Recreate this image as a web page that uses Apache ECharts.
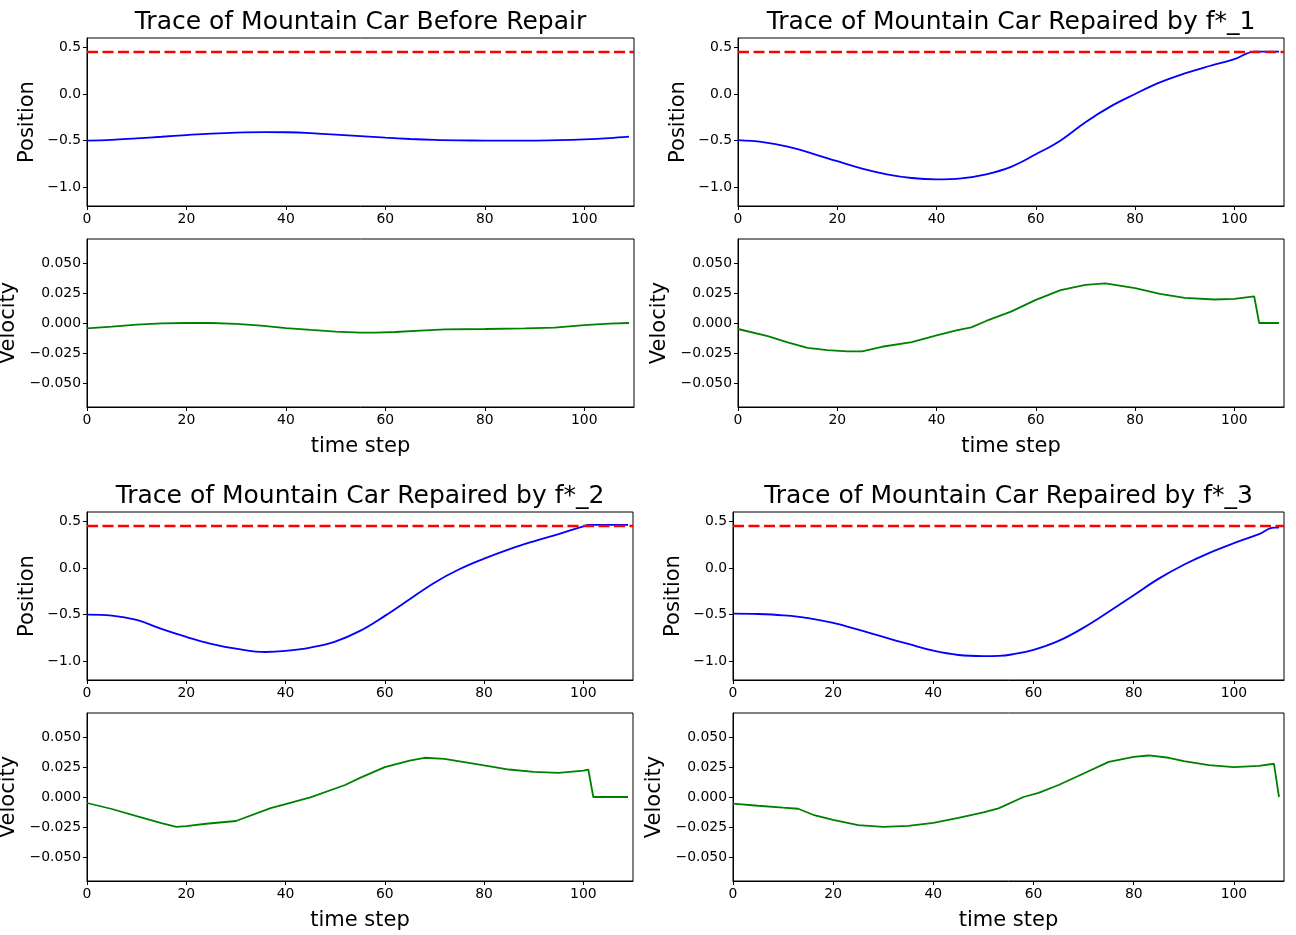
<!DOCTYPE html>
<html>
<head>
<meta charset="utf-8">
<title>Mountain Car traces</title>
<script src="https://cdn.jsdelivr.net/npm/echarts@6/dist/echarts.min.js"></script>
<style>
  html, body { margin: 0; padding: 0; background: #fff; }
  #chart { width: 1296px; height: 935px; }
</style>
</head>
<body>
<div id="chart"></div>
<script>
// ── Data: [time step, value] ────────────────────────────────────────────────
var GOAL = 0.45;
var X_TICKS = [0, 20, 40, 60, 80, 100];
var POS_TICKS = [-1.0, -0.5, 0.0, 0.5];
var VEL_TICKS = [-0.05, -0.025, 0, 0.025, 0.05];

var TITLES = [
  'Trace of Mountain Car Before Repair',
  'Trace of Mountain Car Repaired by f*_1',
  'Trace of Mountain Car Repaired by f*_2',
  'Trace of Mountain Car Repaired by f*_3'
];

var posBefore = [[0,-0.5],[5,-0.492],[10,-0.475],[15,-0.458],[20,-0.44],[25,-0.424],[30,-0.413],
  [36,-0.408],[40,-0.41],[45,-0.42],[50,-0.436],[55,-0.452],[60,-0.468],[65,-0.482],[70,-0.492],
  [75,-0.497],[80,-0.499],[85,-0.5],[90,-0.499],[95,-0.495],[100,-0.486],[105,-0.472],[109,-0.456]];
var velBefore = [[0,-0.0044],[5,-0.003],[10,-0.0014],[15,-0.0003],[20,0],[25,0],[30,-0.0008],
  [35,-0.0022],[40,-0.0042],[45,-0.0058],[50,-0.0072],[55,-0.008],[58,-0.008],[62,-0.0075],
  [67,-0.0064],[72,-0.0053],[80,-0.005],[88,-0.0044],[94,-0.0039],[100,-0.0017],[105,-0.0006],[109,0]];

var posF1 = [[0,-0.495],[5,-0.516],[10,-0.563],[15,-0.638],[20,-0.72],[25,-0.799],[30,-0.86],
  [35,-0.9],[40,-0.914],[45,-0.903],[50,-0.86],[55,-0.78],[60,-0.646],[65,-0.497],[70,-0.302],
  [75,-0.135],[80,0.0],[85,0.124],[90,0.22],[95,0.3],[100,0.373],[104,0.454],[105,0.455],[109,0.455]];
var velF1 = [[0,-0.005],[6,-0.0109],[10,-0.0162],[14,-0.0207],[18,-0.0226],[22,-0.0236],[25,-0.0236],
  [29,-0.0198],[35,-0.0159],[40,-0.0103],[44,-0.0061],[47,-0.0036],[50,0.0017],[55,0.0095],
  [60,0.0193],[65,0.0274],[70,0.0318],[74,0.033],[80,0.029],[85,0.0243],[90,0.021],[96,0.0196],
  [100,0.0201],[104,0.0221],[105,0],[109,0]];

var posF2 = [[0,-0.5],[5,-0.51],[10,-0.557],[15,-0.652],[20,-0.738],[25,-0.812],[30,-0.864],
  [36,-0.9],[40,-0.888],[45,-0.852],[50,-0.788],[55,-0.674],[60,-0.513],[65,-0.335],[70,-0.157],
  [75,-0.014],[80,0.1],[85,0.2],[90,0.286],[95,0.364],[100,0.446],[101,0.462],[102,0.462],[109,0.462]];
var velF2 = [[0,-0.005],[5,-0.01],[10,-0.016],[15,-0.0218],[18,-0.0249],[20,-0.0243],[24,-0.0223],
  [30,-0.02],[37,-0.0092],[40,-0.0059],[45,-0.0003],[52,0.01],[55,0.0159],[60,0.0249],[65,0.0304],
  [68,0.0327],[72,0.0318],[80,0.0263],[85,0.0229],[90,0.021],[95,0.0201],[100,0.022],[101,0.0229],
  [102,0],[109,0]];

var posF3 = [[0,-0.489],[5,-0.493],[10,-0.507],[15,-0.536],[20,-0.589],[25,-0.661],[30,-0.739],
  [35,-0.814],[40,-0.886],[45,-0.932],[50,-0.944],[53,-0.942],[56,-0.923],[60,-0.877],[65,-0.781],
  [70,-0.639],[75,-0.469],[80,-0.291],[85,-0.114],[90,0.035],[95,0.16],[100,0.266],[105,0.362],
  [108,0.432],[109,0.432]];
var velF3 = [[0,-0.0056],[5,-0.0073],[10,-0.0089],[13,-0.0098],[16,-0.0148],[20,-0.019],[25,-0.0235],
  [30,-0.0249],[35,-0.024],[40,-0.0215],[41,-0.0207],[45,-0.0173],[50,-0.0128],[53,-0.0095],[58,0.0],
  [61,0.0034],[65,0.01],[70,0.0196],[75,0.0293],[80,0.0335],[83,0.0346],[87,0.0327],[90,0.0299],
  [95,0.0265],[100,0.0249],[105,0.026],[108,0.0277],[109,0]];

(function() {
  'use strict';

  var FONT = "'DejaVu Sans', sans-serif";

  var panels = [
    { title: TITLES[0], pos: posBefore, vel: velBefore, left: 87,  width: 547, top: 38,  titleTop: 10 },
    { title: TITLES[1], pos: posF1,     vel: velF1,     left: 738, width: 546, top: 38,  titleTop: 10 },
    { title: TITLES[2], pos: posF2,     vel: velF2,     left: 87,  width: 546, top: 512, titleTop: 484 },
    { title: TITLES[3], pos: posF3,     vel: velF3,     left: 733, width: 551, top: 512, titleTop: 484 }
  ];
  var PLOT_H = 168, VEL_OFFSET = 201;

  function fmt(digits) {
    return function(v) {
      var s = Math.abs(v).toFixed(digits);
      return (v < -1e-9 ? '\u2212' : '') + s;
    };
  }

  var grids = [], xAxes = [], yAxes = [], series = [], titles = [];

  function addAxes(idx, yMin, yMax, yTicks, yFmt, yName, yGap, xName) {
    xAxes.push({
      type: 'value', gridIndex: idx, min: 0, max: 110,
      name: xName || '', nameLocation: 'middle', nameGap: 29,
      nameTextStyle: { fontFamily: FONT, fontSize: 21, color: '#000' },
      axisLine: { show: true, onZero: false, lineStyle: { color: '#000', width: 1 } },
      axisTick: { show: true, length: 4, customValues: X_TICKS, lineStyle: { color: '#000' } },
      axisLabel: { customValues: X_TICKS, margin: 6, color: '#000', fontFamily: FONT, fontSize: 13.9 },
      splitLine: { show: false }
    });
    yAxes.push({
      type: 'value', gridIndex: idx, min: yMin, max: yMax,
      name: yName, nameLocation: 'middle', nameGap: yGap, nameRotate: 90,
      nameTextStyle: { fontFamily: FONT, fontSize: 21, color: '#000' },
      axisLine: { show: true, onZero: false, lineStyle: { color: '#000', width: 1 } },
      axisTick: { show: true, length: 4, customValues: yTicks, lineStyle: { color: '#000' } },
      axisLabel: { customValues: yTicks, margin: 6, color: '#000', fontFamily: FONT, fontSize: 13.9, formatter: yFmt },
      splitLine: { show: false }
    });
  }

  panels.forEach(function(p, i) {
    var gPos = i * 2, gVel = i * 2 + 1;

    titles.push({
      text: p.title, left: p.left + p.width / 2, top: p.titleTop, textAlign: 'center', padding: 0,
      textStyle: { fontFamily: FONT, fontSize: 25, fontWeight: 'normal', color: '#000' }
    });

    // ── Position subplot ─────────────────────────────────────────────────────
    grids.push({ left: p.left, top: p.top, width: p.width, height: PLOT_H,
      show: true, borderColor: '#000', borderWidth: 1, containLabel: false, outerBoundsMode: 'none' });
    addAxes(gPos, -1.2, 0.6, POS_TICKS, fmt(1), 'Position', 49);
    series.push({
      type: 'line', xAxisIndex: gPos, yAxisIndex: gPos, data: p.pos,
      showSymbol: false, clip: true, z: 2, smooth: 0.4,
      lineStyle: { color: '#0000ff', width: 1.8 }
    });
    series.push({
      type: 'line', xAxisIndex: gPos, yAxisIndex: gPos, data: [[0, GOAL], [110, GOAL]],
      showSymbol: false, clip: true, z: 3,
      lineStyle: { color: '#ff0000', width: 2.6, type: [11, 4.5] }
    });

    // ── Velocity subplot (straight segments keep the kinks and the drop) ────
    grids.push({ left: p.left, top: p.top + VEL_OFFSET, width: p.width, height: PLOT_H,
      show: true, borderColor: '#000', borderWidth: 1, containLabel: false, outerBoundsMode: 'none' });
    addAxes(gVel, -0.07, 0.07, VEL_TICKS, fmt(3), 'Velocity', 68, 'time step');
    series.push({
      type: 'line', xAxisIndex: gVel, yAxisIndex: gVel, data: p.vel,
      showSymbol: false, clip: true, z: 2, smooth: false,
      lineStyle: { color: '#008000', width: 1.8 }
    });
  });

  var chart = echarts.init(document.getElementById('chart'), null, { renderer: 'canvas' });
  chart.setOption({
    animation: false,
    backgroundColor: '#fff',
    title: titles,
    grid: grids,
    xAxis: xAxes,
    yAxis: yAxes,
    series: series
  });
})();
</script>
</body>
</html>
